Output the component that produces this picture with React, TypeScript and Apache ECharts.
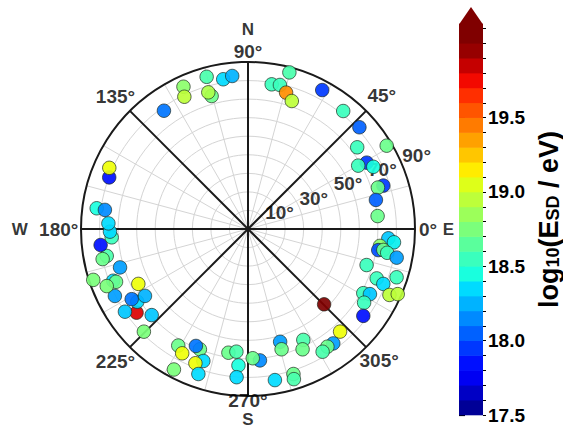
import React, { useEffect, useRef } from 'react';
import * as echarts from 'echarts';

// ---- data: arrival directions (azimuth deg, zenith deg) and log10(E_SD/eV) ----
const azimuth = [
  105.2, 99.4, 95.9, 114.4, 115.7, 105.3, 106.2, 125.4, 159.6, 156.2,
  75.2, 80.7, 77.5, 74.4, 71.1, 61.9, 51.1, 42.4, 31.0, 36.8,
  29.2, 29.9, 26.4, 17.8, 17.7, 12.8, 5.7, 356.2, 354.8, 352.7,
  350.8, 351.2, 350.3, 349.1, 343.1, 339.0, 337.9, 342.0, 330.9, 331.9,
  327.6, 335.0, 336.5, 315.3, 323.0, 311.9, 306.7, 304.0, 301.3, 296.5,
  294.4, 285.9, 285.6, 275.2, 272.1, 287.4, 287.0, 280.1, 239.1, 248.2,
  246.0, 242.1, 251.3, 248.6, 242.2, 251.1, 261.0, 264.6, 266.0, 265.6,
  224.6, 221.8, 216.9, 213.9, 213.3, 211.1, 213.0, 206.7, 206.6, 201.0,
  201.8, 202.0, 198.2, 196.7, 190.8, 191.7, 186.2, 183.5, 181.1, 177.7,
  172.2, 172.4,
];
const zenith = [
  85.0, 81.8, 82.9, 84.2, 79.1, 74.3, 76.7, 78.2, 79.8, 81.7,
  87.3, 79.0, 79.5, 76.3, 72.9, 84.9, 81.7, 81.3, 87.2, 73.5,
  73.3, 68.5, 75.4, 76.6, 73.5, 70.7, 70.2, 75.8, 79.0, 71.7,
  71.1, 73.8, 76.1, 81.6, 66.8, 74.3, 78.7, 84.2, 71.1, 74.5,
  74.1, 84.1, 88.0, 57.7, 77.8, 74.3, 76.9, 76.5, 77.4, 66.8,
  71.2, 63.2, 67.3, 71.1, 69.7, 81.9, 84.6, 82.7, 73.2, 69.8,
  69.0, 75.8, 75.1, 77.7, 85.6, 82.6, 67.5, 66.4, 73.7, 80.1,
  78.8, 69.6, 75.1, 79.9, 71.4, 73.2, 66.2, 80.3, 66.1, 77.8,
  76.6, 82.1, 87.8, 72.0, 77.5, 80.0, 79.9, 73.6, 74.4, 75.3,
  82.3, 77.8,
];
const logEnergy = [
  18.6, 18.35, 18.25, 18.8, 18.95, 18.7, 18.9, 18.1, 17.85, 19.1,
  18.6, 18.55, 18.55, 19.4, 18.95, 17.95, 18.55, 18.05, 18.7, 18.55,
  17.95, 18.55, 18.45, 17.95, 18.7, 18.05, 18.7, 18.3, 18.4, 18.8,
  18.0, 18.7, 18.55, 18.2, 18.55, 18.55, 18.35, 18.55, 18.55, 18.3,
  18.55, 18.95, 18.95, 20.2, 17.85, 19.1, 18.2, 18.7, 18.6, 18.6,
  18.7, 18.2, 18.7, 18.15, 18.7, 18.7, 18.6, 18.35, 18.7, 18.7,
  18.1, 19.1, 18.35, 19.1, 18.75, 18.35, 18.7, 18.6, 18.45, 18.35,
  18.75, 18.3, 19.8, 18.3, 18.35, 18.1, 18.25, 18.2, 19.1, 18.35,
  18.7, 18.75, 18.75, 18.2, 18.6, 18.7, 17.85, 18.55, 18.35, 18.35,
  18.45, 18.15,
];

// ---- axis / tick labels ----
const spokeAngles = [0, 45, 90, 135, 180, 225, 270, 315];
const angleLabelAngles = [0, 45, 90, 135, 180, 225, 270, 315];
const angleLabelTexts = ['0°', '45°', '90°', '135°', '180°', '225°', '270°', '305°'];
const compassAngles = [90, 180, 270, 0];
const compassTexts = ['N', 'W', 'S', 'E'];
const zenithLabelValues = [10, 30, 50, 70, 90];
const colorbarTicks = [17.5, 18.0, 18.5, 19.0, 19.5, 20.0];

// ---- layout (not data) ----
const CENTER = [248, 229];
const RADIUS = 167;
const ANGLE_LABEL_R = [97, 102, 95.5, 101, 102, 101, 92.5, 100];
const COMPASS_R = [107.5, 123, 102.5, 108];
const ZENITH_LABEL_ANGLE = 22.5;
const CB_MIN = 17.5;
const CB_MAX = 20.0;
const CB_TOP = 20.13;
const CB_STEP = 0.1;
const FONT = "'Liberation Sans', Arial, sans-serif";

// matplotlib "jet"
const JR = [[0, 0], [0.35, 0], [0.66, 1], [0.89, 1], [1, 0.5]];
const JG = [[0, 0], [0.125, 0], [0.375, 1], [0.64, 1], [0.91, 0], [1, 0]];
const JB = [[0, 0.5], [0.11, 1], [0.34, 1], [0.65, 0], [1, 0]];
function seg(p: number[][], t: number) {
  for (let i = 1; i < p.length; i++) {
    if (t <= p[i][0]) {
      const [x0, y0] = p[i - 1];
      const [x1, y1] = p[i];
      return y0 + ((y1 - y0) * (t - x0)) / (x1 - x0);
    }
  }
  return p[p.length - 1][1];
}
function jet(t: number) {
  const c = Math.max(0, Math.min(1, t));
  const r = Math.round(seg(JR, c) * 255);
  const g = Math.round(seg(JG, c) * 255);
  const b = Math.round(seg(JB, c) * 255);
  return `rgb(${r},${g},${b})`;
}
const colorFor = (v: number) => jet((v - CB_MIN) / (CB_MAX - CB_MIN));

export default function App() {
  const ref = useRef<HTMLDivElement>(null);
  useEffect(() => {
    if (!ref.current) return;
    const chart = echarts.init(ref.current, null, { renderer: 'svg' });

    const bands: number[][] = [];
    const nb = Math.round((CB_MAX - CB_MIN) / CB_STEP);
    for (let i = 0; i < nb; i++) {
      const lo = CB_MIN + i * CB_STEP;
      bands.push([0, lo, lo + CB_STEP]);
    }
    bands.push([0, CB_MAX, CB_TOP]);
    const minorTicks: number[] = [];
    for (let i = 0; i <= nb + 1; i++) minorTicks.push(+(CB_MIN + i * CB_STEP).toFixed(2));

    const spokeSeries = spokeAngles.map((a) => ({
      type: 'line',
      coordinateSystem: 'polar',
      data: [[0, a], [90, a]],
      symbol: 'none',
      silent: true,
      z: 2,
      lineStyle: { color: '#1a1a1a', width: 2 },
    }));

    const textLabel = (size: number, extra: any) => ({
      show: true,
      position: 'inside',
      color: '#000',
      fontFamily: FONT,
      fontWeight: 'bold',
      fontSize: size,
      lineHeight: size,
      ...extra,
    });

    const option: any = {
      animation: false,
      backgroundColor: '#fff',
      polar: { center: CENTER, radius: RADIUS },
      angleAxis: {
        type: 'value',
        min: 0,
        max: 360,
        interval: 15,
        startAngle: 0,
        clockwise: false,
        axisLine: { show: true, lineStyle: { color: '#1a1a1a', width: 2 } },
        axisTick: { show: false },
        axisLabel: { show: false },
        splitLine: { show: true, lineStyle: { color: '#d4d4d4', width: 1 } },
        z: 1,
      },
      radiusAxis: {
        type: 'value',
        min: 0,
        max: 90,
        interval: 10,
        axisLine: { show: false },
        axisTick: { show: false },
        axisLabel: { show: false },
        splitLine: { show: true, lineStyle: { color: '#d4d4d4', width: 1 } },
        z: 1,
      },
      grid: { left: 459, top: 24, width: 25, height: 391 },
      xAxis: { type: 'value', min: 0, max: 1, show: false },
      yAxis: [
        {
          type: 'value',
          min: CB_MIN,
          max: CB_TOP,
          position: 'right',
          axisLine: { show: false },
          splitLine: { show: false },
          axisTick: { show: true, length: 6, lineStyle: { color: '#000', width: 1.2 }, customValues: colorbarTicks },
          axisLabel: {
            customValues: colorbarTicks,
            showMaxLabel: false,
            formatter: (v: number) => v.toFixed(1),
            fontFamily: FONT,
            fontWeight: 'bold',
            fontSize: 19,
            color: '#000',
            margin: 5,
          },
          name: '{a|log}{s|10}{a|(E}{s|SD}{a| / eV)}',
          nameLocation: 'middle',
          nameRotate: 90,
          nameGap: 52,
          nameTextStyle: {
            rich: {
              a: { fontFamily: FONT, fontWeight: 'bold', fontSize: 27, color: '#000', verticalAlign: 'middle' },
              s: { fontFamily: FONT, fontWeight: 'bold', fontSize: 18, color: '#000', verticalAlign: 'bottom' },
            },
          },
        },
        {
          type: 'value',
          min: CB_MIN,
          max: CB_TOP,
          position: 'right',
          axisLine: { show: false },
          splitLine: { show: false },
          axisTick: { show: true, length: 3, lineStyle: { color: '#000', width: 1 }, customValues: minorTicks },
          axisLabel: { show: false },
        },
      ],
      series: [
        ...spokeSeries,
        {
          type: 'scatter',
          coordinateSystem: 'polar',
          symbolSize: 1,
          clip: false,
          silent: true,
          itemStyle: { color: 'rgba(0,0,0,0)' },
          z: 3,
          data: zenithLabelValues.map((r) => ({
            value: [r, ZENITH_LABEL_ANGLE],
            label: textLabel(19, { formatter: `${r}°`, align: 'left', verticalAlign: 'bottom' }),
          })),
        },
        {
          type: 'scatter',
          coordinateSystem: 'polar',
          symbolSize: 1,
          clip: false,
          silent: true,
          itemStyle: { color: 'rgba(0,0,0,0)' },
          z: 3,
          data: angleLabelAngles.map((a, i) => ({
            value: [ANGLE_LABEL_R[i], a],
            label: textLabel(19, { formatter: angleLabelTexts[i], align: 'center', verticalAlign: 'middle' }),
          })),
        },
        {
          type: 'scatter',
          coordinateSystem: 'polar',
          symbolSize: 1,
          clip: false,
          silent: true,
          itemStyle: { color: 'rgba(0,0,0,0)' },
          z: 3,
          data: compassAngles.map((a, i) => ({
            value: [COMPASS_R[i], a],
            label: textLabel(17, { formatter: compassTexts[i], align: 'center', verticalAlign: 'middle' }),
          })),
        },
        {
          type: 'scatter',
          coordinateSystem: 'polar',
          symbol: 'circle',
          symbolSize: 13.5,
          z: 5,
          data: azimuth.map((a, i) => [zenith[i], a, logEnergy[i]]),
          itemStyle: {
            color: (p: any) => colorFor(p.value[2]),
            borderColor: 'rgba(30,40,30,0.75)',
            borderWidth: 1,
            opacity: 0.92,
          },
        },
        {
          type: 'custom',
          xAxisIndex: 0,
          yAxisIndex: 0,
          silent: true,
          data: bands,
          encode: { x: 0, y: 1 },
          renderItem: (params: any, api: any) => {
            const lo = api.value(1);
            const hi = api.value(2);
            const p0 = api.coord([0, lo]);
            const p1 = api.coord([1, hi]);
            return {
              type: 'rect',
              shape: { x: p0[0], y: p1[1] - 0.3, width: p1[0] - p0[0], height: p0[1] - p1[1] + 0.6 },
              style: { fill: colorFor((lo + hi) / 2) },
            };
          },
        },
        {
          type: 'custom',
          xAxisIndex: 0,
          yAxisIndex: 0,
          silent: true,
          data: [[0, CB_TOP]],
          encode: { x: 0, y: 1 },
          renderItem: (params: any, api: any) => {
            const pL = api.coord([0, CB_TOP]);
            const pR = api.coord([1, CB_TOP]);
            return {
              type: 'polygon',
              shape: { points: [[pL[0], pL[1] + 0.5], [pR[0], pR[1] + 0.5], [(pL[0] + pR[0]) / 2, pL[1] - 17]] },
              style: { fill: colorFor(CB_TOP + 1) },
            };
          },
        },
      ],
    };
    chart.setOption(option);
    return () => chart.dispose();
  }, []);
  return (
    <div
      ref={ref}
      style={{ position: 'fixed', left: 0, top: 0, width: 563, height: 429, background: '#fff' }}
    />
  );
}
